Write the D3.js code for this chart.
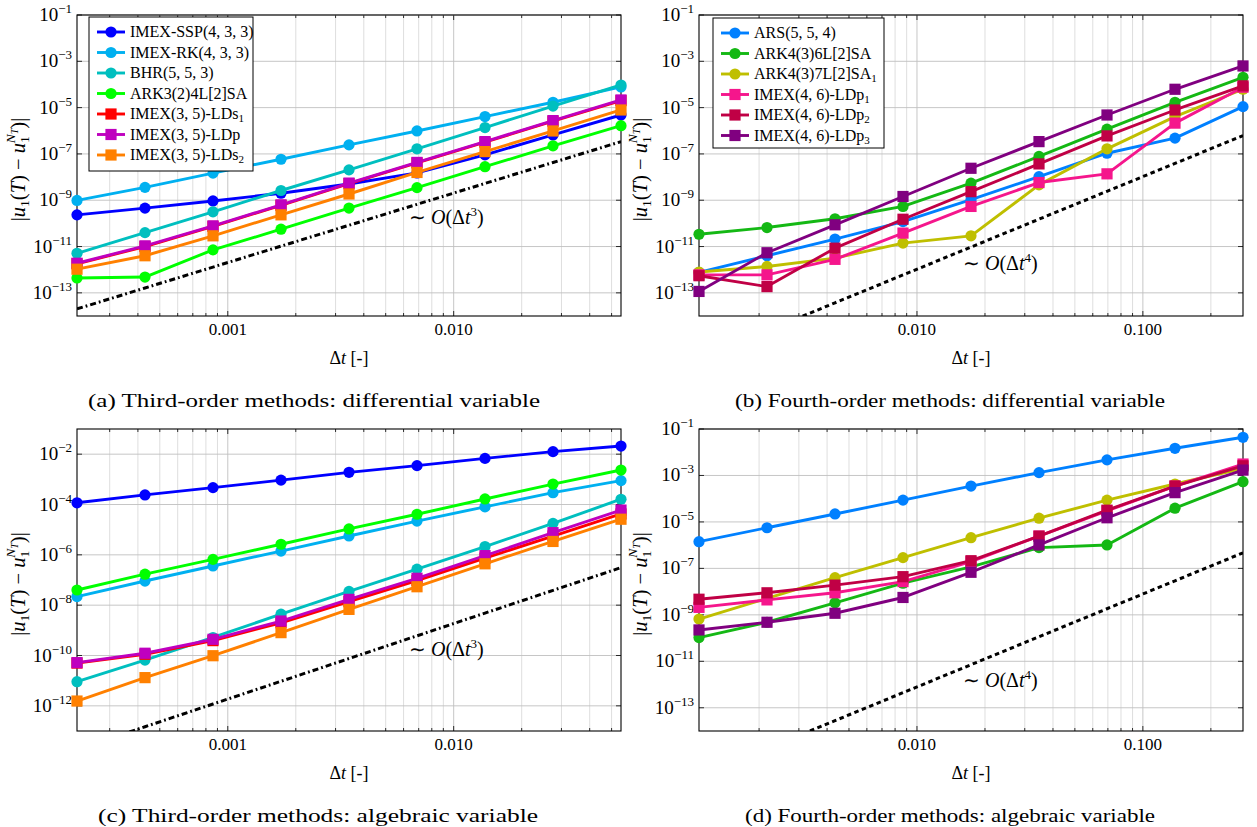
<!DOCTYPE html>
<html lang="en">
<head>
<meta charset="UTF-8">
<title>IMEX convergence</title>
<style>
  body { margin: 0; background: #fff; }
  svg { font-family: "Liberation Serif", serif; }
  .grid-minor { stroke: #dadada; stroke-width: 0.9; }
  .grid-major { stroke: #c0c0c0; stroke-width: 0.9; }
  .frame { fill: none; stroke: #000; stroke-width: 1.1; }
  .tick { stroke: #000; stroke-width: 0.8; }
</style>
</head>
<body>
<svg width="1257" height="827"></svg>
<script src="https://d3js.org/d3.v7.min.js"></script>
<script>
// step sizes
const dtThird  = [2.15e-4, 4.3e-4, 8.6e-4, 1.72e-3, 3.44e-3, 6.88e-3, 1.376e-2, 2.752e-2, 5.504e-2];
const dtFourth = [1.084e-3, 2.168e-3, 4.336e-3, 8.672e-3, 1.7344e-2, 3.4688e-2, 6.9376e-2, 1.38752e-1, 2.77504e-1];

// third-order methods
const namesThird   = [["IMEX-SSP(4, 3, 3)", ""], ["IMEX-RK(4, 3, 3)", ""], ["BHR(5, 5, 3)", ""], ["ARK3(2)4L[2]SA", ""],
                      ["IMEX(3, 5)-LDs", "1"], ["IMEX(3, 5)-LDp", ""], ["IMEX(3, 5)-LDs", "2"]];
const colorsThird  = ["#0000ff", "#00b0f0", "#00bfbf", "#00ff00", "#ff0000", "#bf00bf", "#ff8000"];
const markersThird = ["circle", "circle", "circle", "circle", "square", "square", "square"];

// (a) differential variable
const errA_SSP  = [2.34e-10, 4.57e-10, 9.3e-10, 2.0e-9, 5.0e-9, 1.51e-8, 9.1e-8, 6.6e-7, 4.8e-6];
const errA_RK   = [9.8e-10, 3.6e-9, 1.48e-8, 5.9e-8, 2.45e-7, 9.8e-7, 4.1e-6, 1.7e-5, 7.8e-5];
const errA_BHR  = [5.1e-12, 4.0e-11, 3.16e-10, 2.63e-9, 2.04e-8, 1.66e-7, 1.38e-6, 1.17e-5, 9.5e-5];
const errA_ARK  = [4.4e-13, 4.8e-13, 7.2e-12, 5.6e-11, 4.6e-10, 3.5e-9, 2.8e-8, 2.24e-7, 1.66e-6];
const errA_LDs1 = [1.8e-12, 1.0e-11, 7.4e-11, 6.0e-10, 5.2e-9, 4.1e-8, 3.2e-7, 2.6e-6, 2.0e-5];
const errA_LDp  = [1.9e-12, 1.07e-11, 7.8e-11, 6.3e-10, 5.5e-9, 4.3e-8, 3.4e-7, 2.75e-6, 2.14e-5];
const errA_LDs2 = [1.05e-12, 4.0e-12, 2.9e-11, 2.34e-10, 1.86e-9, 1.58e-8, 1.26e-7, 9.8e-7, 7.9e-6];

// (c) algebraic variable
const errC_SSP  = [1.17e-4, 2.4e-4, 4.7e-4, 9.3e-4, 1.9e-3, 3.5e-3, 6.8e-3, 1.26e-2, 2.1e-2];
const errC_RK   = [2.2e-8, 9.1e-8, 3.6e-7, 1.41e-6, 5.6e-6, 2.2e-5, 8.1e-5, 2.95e-4, 8.9e-4];
const errC_BHR  = [9.1e-12, 6.6e-11, 5.2e-10, 4.4e-9, 3.5e-8, 2.7e-7, 2.14e-6, 1.78e-5, 1.62e-4];
const errC_ARK  = [4.0e-8, 1.7e-7, 6.6e-7, 2.63e-6, 1.07e-5, 4.1e-5, 1.66e-4, 6.5e-4, 2.34e-3];
const errC_LDs1 = [5.0e-11, 1.12e-10, 3.9e-10, 2.0e-9, 1.38e-8, 9.5e-8, 7.4e-7, 5.6e-6, 4.2e-5];
const errC_LDp  = [5.2e-11, 1.23e-10, 4.4e-10, 2.34e-9, 1.7e-8, 1.17e-7, 9.3e-7, 7.6e-6, 6.0e-5];
const errC_LDs2 = [1.55e-12, 1.32e-11, 9.8e-11, 8.1e-10, 6.8e-9, 5.4e-8, 4.4e-7, 3.4e-6, 2.6e-5];

// fourth-order methods
const namesFourth   = [["ARS(5, 5, 4)", ""], ["ARK4(3)6L[2]SA", ""], ["ARK4(3)7L[2]SA", "1"],
                       ["IMEX(4, 6)-LDp", "1"], ["IMEX(4, 6)-LDp", "2"], ["IMEX(4, 6)-LDp", "3"]];
const colorsFourth  = ["#0080ff", "#14b814", "#bfbf00", "#f5168c", "#c00045", "#800080"];
const markersFourth = ["circle", "circle", "circle", "square", "square", "square"];

// (b) differential variable
const errB_ARS   = [7.6e-13, 4.0e-12, 2.1e-11, 1.2e-10, 1.05e-9, 1.05e-8, 1.07e-7, 4.8e-7, 1.1e-5];
const errB_ARK6  = [3.4e-11, 6.6e-11, 1.58e-10, 5.4e-10, 5.5e-9, 7.8e-8, 1.17e-6, 1.7e-5, 2.04e-4];
const errB_ARK7  = [7.9e-13, 1.38e-12, 3.16e-12, 1.41e-11, 2.9e-11, 4.6e-9, 1.66e-7, 4.1e-6, 6.2e-5];
const errB_LDp1  = [6.0e-13, 6.0e-13, 2.8e-12, 3.8e-11, 5.4e-10, 5.8e-9, 1.38e-8, 2.14e-6, 7.6e-5];
const errB_LDp2  = [5.5e-13, 1.86e-13, 8.5e-12, 1.51e-10, 2.34e-9, 3.7e-8, 6.0e-7, 7.9e-6, 8.7e-5];
const errB_LDp3  = [1.15e-13, 5.4e-12, 8.7e-11, 1.45e-9, 2.4e-8, 3.4e-7, 4.8e-6, 6.2e-5, 6.3e-4];

// (d) algebraic variable
const errD_ARS   = [1.41e-6, 5.6e-6, 2.2e-5, 8.7e-5, 3.5e-4, 1.32e-3, 4.7e-3, 1.48e-2, 4.4e-2];
const errD_ARK6  = [1.05e-10, 4.8e-10, 3.3e-9, 2.3e-8, 1.17e-7, 7.8e-7, 1.02e-6, 3.9e-5, 5.4e-4];
const errD_ARK7  = [6.6e-10, 5.1e-9, 4.0e-8, 2.9e-7, 2.1e-6, 1.45e-5, 8.7e-5, 4.3e-4, 2.0e-3];
const errD_LDp1  = [2.1e-9, 4.4e-9, 8.9e-9, 2.7e-8, 1.95e-7, 2.45e-6, 3.0e-5, 3.5e-4, 3.1e-3];
const errD_LDp2  = [4.7e-9, 8.9e-9, 1.9e-8, 4.4e-8, 2.14e-7, 2.45e-6, 3.2e-5, 3.5e-4, 2.6e-3];
const errD_LDp3  = [2.24e-10, 4.8e-10, 1.17e-9, 5.6e-9, 6.8e-8, 1.02e-6, 1.51e-5, 1.82e-4, 1.7e-3];

// reference slopes  C * dt^p
const refCoef = { a: 2.04e-3, b: 1.05e-4, c: 1.86e-3, d: 7.9e-5 };

const panels = [
  { id: "a", x0: 77, x1: 621, y0: 15, y1: 316, dt: dtThird, yDom: [1e-14, 1e-1], yExp: [-1, -3, -5, -7, -9, -11, -13],
    xTicks: [0.001, 0.01], xText: ["0.001", "0.010"], names: namesThird, colors: colorsThird, markers: markersThird,
    errs: [errA_SSP, errA_RK, errA_BHR, errA_ARK, errA_LDs1, errA_LDp, errA_LDs2],
    order: 3, dash: "6,3,1.8,3", refAt: [409, 224], legend: [89, 17, 164, 154],
    caption: "(a) Third-order methods: differential variable", capX: 314, capW: 452 },
  { id: "b", x0: 699, x1: 1243, y0: 15, y1: 316, dt: dtFourth, yDom: [1e-14, 1e-1], yExp: [-1, -3, -5, -7, -9, -11, -13],
    xTicks: [0.01, 0.1], xText: ["0.010", "0.100"], names: namesFourth, colors: colorsFourth, markers: markersFourth,
    errs: [errB_ARS, errB_ARK6, errB_ARK7, errB_LDp1, errB_LDp2, errB_LDp3],
    order: 4, dash: "4.5,3.5", refAt: [963, 270], legend: [713, 18, 171, 130],
    caption: "(b) Fourth-order methods: differential variable", capX: 950, capW: 430 },
  { id: "c", x0: 77, x1: 621, y0: 429, y1: 731, dt: dtThird, yDom: [1e-13, 1e-1], yExp: [-2, -4, -6, -8, -10, -12],
    xTicks: [0.001, 0.01], xText: ["0.001", "0.010"], names: namesThird, colors: colorsThird, markers: markersThird,
    errs: [errC_SSP, errC_RK, errC_BHR, errC_ARK, errC_LDs1, errC_LDp, errC_LDs2],
    order: 3, dash: "6,3,1.8,3", refAt: [409, 656], legend: null,
    caption: "(c) Third-order methods: algebraic variable", capX: 318, capW: 440 },
  { id: "d", x0: 699, x1: 1243, y0: 429, y1: 731, dt: dtFourth, yDom: [1e-14, 1e-1], yExp: [-1, -3, -5, -7, -9, -11, -13],
    xTicks: [0.01, 0.1], xText: ["0.010", "0.100"], names: namesFourth, colors: colorsFourth, markers: markersFourth,
    errs: [errD_ARS, errD_ARK6, errD_ARK7, errD_LDp1, errD_LDp2, errD_LDp3],
    order: 4, dash: "4.5,3.5", refAt: [963, 687], legend: null,
    caption: "(d) Fourth-order methods: algebraic variable", capX: 950, capW: 410 }
];

const svg = d3.select("svg");
svg.append("rect").attr("width", 1257).attr("height", 827).attr("fill", "#fff");

function drawMarker(g, type, x, y, color) {
  if (type === "circle") {
    g.append("circle").attr("cx", x).attr("cy", y).attr("r", 5.6).attr("fill", color);
  } else {
    g.append("rect").attr("x", x - 5.6).attr("y", y - 5.6).attr("width", 11.2).attr("height", 11.2).attr("fill", color);
  }
}

panels.forEach(p => {
  const x = d3.scaleLog().domain([p.dt[0], p.dt[p.dt.length - 1]]).range([p.x0, p.x1]);
  const y = d3.scaleLog().domain(p.yDom).range([p.y1, p.y0]);
  const g = svg.append("g");

  g.append("clipPath").attr("id", "clip-" + p.id)
    .append("rect").attr("x", p.x0).attr("y", p.y0).attr("width", p.x1 - p.x0).attr("height", p.y1 - p.y0);

  // vertical grid (major + minor)
  const [lo, hi] = x.domain();
  const xGrid = [];
  for (let k = Math.floor(Math.log10(lo)); k <= Math.ceil(Math.log10(hi)); k++) {
    for (let m = 1; m <= 9; m++) {
      const v = m * Math.pow(10, k);
      if (v >= lo * 1.0001 && v <= hi * 0.9999) xGrid.push({ v, major: m === 1 });
    }
  }
  g.selectAll(".vg").data(xGrid).enter().append("line")
    .attr("class", d => d.major ? "grid-major" : "grid-minor")
    .attr("x1", d => x(d.v)).attr("x2", d => x(d.v)).attr("y1", p.y0).attr("y2", p.y1);
  g.selectAll(".vt").data(xGrid).enter().append("path").attr("class", "tick")
    .attr("d", d => {
      const L = d.major ? 5 : 3, xx = x(d.v);
      return `M${xx},${p.y1}v${-L}M${xx},${p.y0}v${L}`;
    });

  // horizontal grid at labelled decades
  const yT = p.yExp.map(e => Math.pow(10, e));
  g.selectAll(".hg").data(yT).enter().append("line").attr("class", "grid-major")
    .attr("x1", p.x0).attr("x2", p.x1).attr("y1", d => y(d)).attr("y2", d => y(d));
  g.selectAll(".ht").data(yT).enter().append("path").attr("class", "tick")
    .attr("d", d => `M${p.x0},${y(d)}h5M${p.x1},${y(d)}h-5`);

  g.append("rect").attr("class", "frame")
    .attr("x", p.x0).attr("y", p.y0).attr("width", p.x1 - p.x0).attr("height", p.y1 - p.y0);

  // y tick labels 10^e
  p.yExp.forEach(e => {
    const t = g.append("text").attr("x", p.x0 - 5).attr("y", y(Math.pow(10, e)) + 6)
      .attr("text-anchor", "end").attr("font-size", 19);
    t.append("tspan").text("10");
    t.append("tspan").attr("font-size", 13).attr("dy", -8).text("\u2212" + Math.abs(e));
  });

  // x tick labels
  p.xTicks.forEach((v, i) => {
    g.append("text").attr("x", x(v)).attr("y", p.y1 + 19).attr("text-anchor", "middle")
      .attr("font-size", 17).text(p.xText[i]);
  });

  // x label
  const xl = g.append("text").attr("x", (p.x0 + p.x1) / 2).attr("y", p.y1 + 48)
    .attr("text-anchor", "middle").attr("font-size", 18);
  xl.append("tspan").text("\u0394");
  xl.append("tspan").attr("font-style", "italic").text("t");
  xl.append("tspan").text(" [-]");

  // y label
  const yl = g.append("text").attr("font-size", 20.5).attr("text-anchor", "middle")
    .attr("transform", `translate(${p.x0 - 52},${(p.y0 + p.y1) / 2 + 4}) rotate(-90)`);
  yl.append("tspan").text("|");
  yl.append("tspan").attr("font-style", "italic").text("u");
  yl.append("tspan").attr("font-size", 13.5).attr("dy", 4).text("1");
  yl.append("tspan").attr("dy", -4).text("(");
  yl.append("tspan").attr("font-style", "italic").text("T");
  yl.append("tspan").text(") \u2212 ");
  yl.append("tspan").attr("font-style", "italic").text("u");
  yl.append("tspan").attr("font-size", 13.5).attr("dy", 4).text("1");
  yl.append("tspan").attr("font-size", 13.5).attr("font-style", "italic").attr("dx", -7).attr("dy", -14).text("N");
  yl.append("tspan").attr("font-size", 10).attr("font-style", "italic").attr("dy", 3).text("T");
  yl.append("tspan").attr("dy", 7).text(")|");

  // reference slope
  const line = d3.line().x(d => x(d[0])).y(d => y(d[1]));
  const refPts = p.dt.map(t => [t, refCoef[p.id] * Math.pow(t, p.order)]);
  g.append("path").attr("d", line(refPts)).attr("clip-path", `url(#clip-${p.id})`)
    .attr("fill", "none").attr("stroke", "#000").attr("stroke-width", 3).attr("stroke-dasharray", p.dash);
  const rl = g.append("text").attr("x", p.refAt[0]).attr("y", p.refAt[1]).attr("font-size", 20);
  rl.append("tspan").text("\u223C ");
  rl.append("tspan").attr("font-style", "italic").text("O");
  rl.append("tspan").text("(\u0394");
  rl.append("tspan").attr("font-style", "italic").text("t");
  rl.append("tspan").attr("font-size", 13).attr("dy", -8).text(p.order);
  rl.append("tspan").attr("dy", 8).text(")");

  // series
  p.errs.forEach((e, i) => {
    const pts = p.dt.map((t, j) => [t, e[j]]);
    g.append("path").attr("d", line(pts)).attr("fill", "none")
      .attr("stroke", p.colors[i]).attr("stroke-width", 2.9).attr("stroke-linejoin", "round");
    pts.forEach(q => drawMarker(g, p.markers[i], x(q[0]), y(q[1]), p.colors[i]));
  });

  // legend
  if (p.legend) {
    const [lx, ly, lw, lh] = p.legend;
    g.append("rect").attr("x", lx).attr("y", ly).attr("width", lw).attr("height", lh)
      .attr("fill", "#fff").attr("stroke", "#000").attr("stroke-width", 1);
    p.names.forEach((n, i) => {
      const ry = ly + 15 + i * 20.5;
      g.append("line").attr("x1", lx + 8).attr("x2", lx + 36).attr("y1", ry).attr("y2", ry)
        .attr("stroke", p.colors[i]).attr("stroke-width", 2.9);
      drawMarker(g, p.markers[i], lx + 22, ry, p.colors[i]);
      const t = g.append("text").attr("x", lx + 41).attr("y", ry + 5).attr("font-size", 16);
      t.append("tspan").text(n[0]);
      if (n[1]) t.append("tspan").attr("font-size", 11).attr("dy", 3).text(n[1]);
    });
  }

  // caption
  svg.append("text").attr("x", p.capX).attr("y", p.y1 + 91).attr("text-anchor", "middle")
    .attr("font-size", 19).attr("textLength", p.capW).attr("lengthAdjust", "spacingAndGlyphs")
    .text(p.caption);
});
</script>
</body>
</html>
